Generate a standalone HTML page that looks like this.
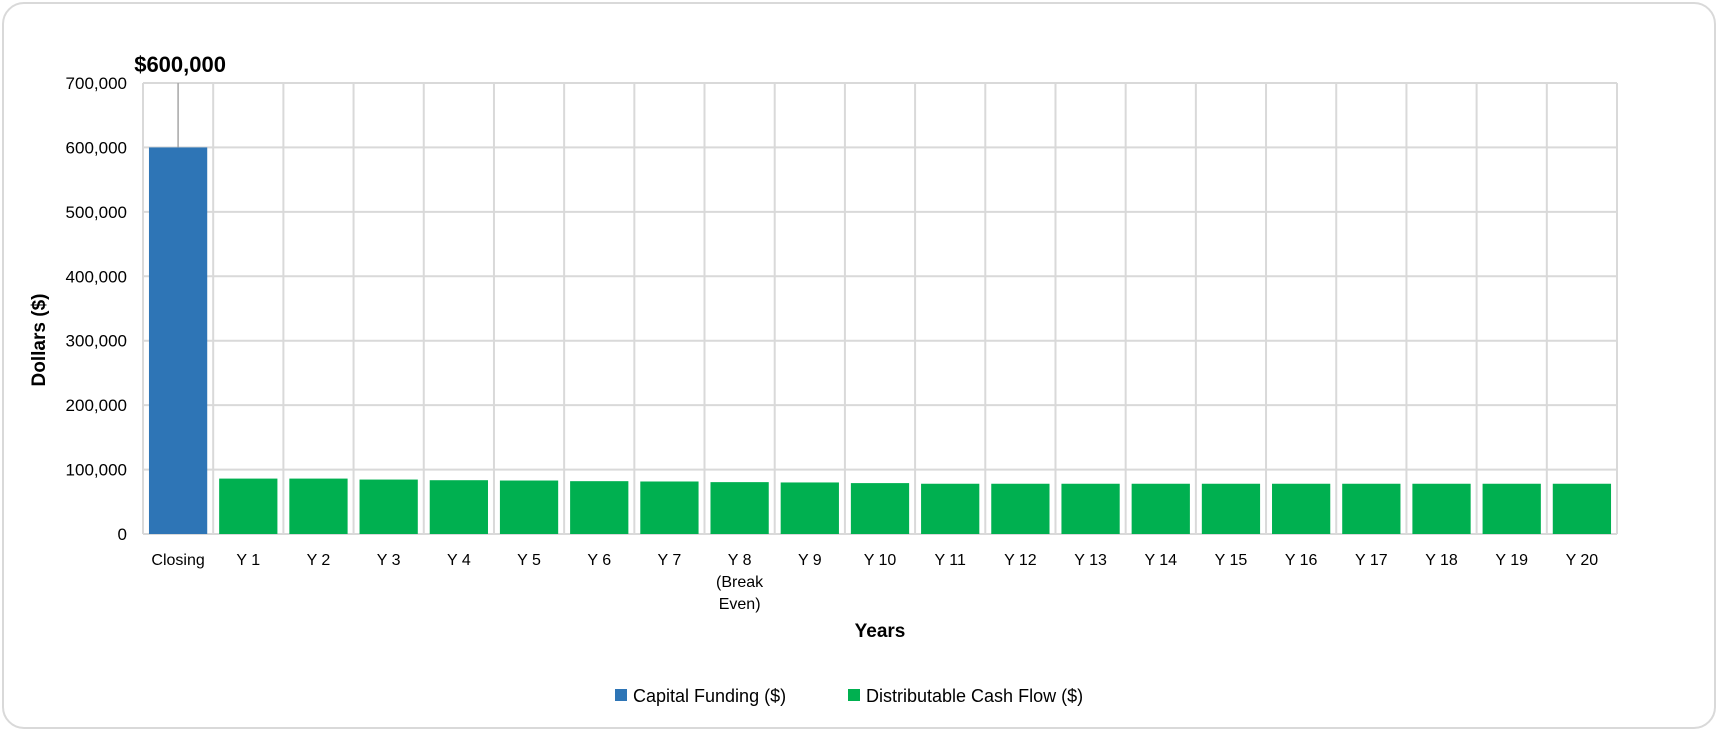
<!DOCTYPE html>
<html><head><meta charset="utf-8"><style>
html,body{margin:0;padding:0;background:#fff;}
body{width:1722px;height:735px;overflow:hidden;font-family:"Liberation Sans",sans-serif;}
#card{position:absolute;left:2px;top:2px;width:1714px;height:727px;border:2px solid #d9d9d9;border-radius:22px;box-sizing:border-box;}
</style></head><body>
<div id="card"></div>
<svg id="chart" width="1722" height="735" style="position:absolute;left:0;top:0"></svg>
<script>
const categories=["Closing","Y 1","Y 2","Y 3","Y 4","Y 5","Y 6","Y 7","Y 8|(Break|Even)","Y 9","Y 10","Y 11","Y 12","Y 13","Y 14","Y 15","Y 16","Y 17","Y 18","Y 19","Y 20"];
const capitalFunding=[600000,0,0,0,0,0,0,0,0,0,0,0,0,0,0,0,0,0,0,0,0];
const cashFlow=[0,86000,86000,84500,83500,83000,82000,81500,80500,80000,79000,78000,78000,78000,78000,78000,78000,78000,78000,78000,78000];
const yTicks=[0,100000,200000,300000,400000,500000,600000,700000];
const dataLabel="$600,000";

const NS="http://www.w3.org/2000/svg";
const svg=document.getElementById('chart');
const L=143,R=1617,T=83,B=534,YMAX=700000;
const bw=(R-L)/categories.length;
const y=v=>B-(v/YMAX)*(B-T);
const x=i=>L+i*bw;
function mk(tag,attrs,parent){const e=document.createElementNS(NS,tag);for(const k in attrs)e.setAttribute(k,attrs[k]);(parent||svg).appendChild(e);return e;}
const font='"Liberation Sans",sans-serif';
// gridlines
yTicks.forEach(t=>{
  const g=mk('line',{x1:L,x2:R,y1:y(t),y2:y(t),stroke:'#d9d9d9','stroke-width':2});
  
  
  const tx=mk('text',{x:L-16,y:y(t)+6,'text-anchor':'end','font-size':17,'font-family':font,fill:'#000'});
  tx.textContent=t.toLocaleString('en-US');
  
  
});
for(let i=0;i<=categories.length;i++){
  const g=mk('line',{x1:x(i),x2:x(i),y1:T,y2:B,stroke:'#d9d9d9','stroke-width':2});
  
  
}
const gap=bw*0.085;
categories.forEach((c,i)=>{
  if(capitalFunding[i]>0){
    const r=mk('rect',{x:x(i)+gap,y:y(capitalFunding[i]),width:bw-2*gap,height:B-y(capitalFunding[i]),fill:'#2e75b6'});
    
    
    const ln=mk('line',{x1:x(i)+bw/2,x2:x(i)+bw/2,y1:T,y2:y(capitalFunding[i]),stroke:'#a6a6a6','stroke-width':1.5});
    
    
    const dl=mk('text',{x:x(i)+bw/2+2,y:T-11,'text-anchor':'middle','font-size':22,'font-weight':'bold','font-family':font});
    dl.textContent=dataLabel;
    
    
  }
  if(cashFlow[i]>0){
    const r=mk('rect',{x:x(i)+gap,y:y(cashFlow[i]),width:bw-2*gap,height:B-y(cashFlow[i]),fill:'#00b050'});
    
    
  }
  c.split('|').forEach((line,j)=>{
    const t=mk('text',{x:x(i)+bw/2,y:565+j*22,'text-anchor':'middle','font-size':16,'font-family':font});
    t.textContent=line;
    
    
  });
});
const yt=mk('text',{x:0,y:0,transform:'translate(45,340) rotate(-90)','text-anchor':'middle','font-size':19,'font-weight':'bold','font-family':font});
yt.textContent='Dollars ($)';


const xt=mk('text',{x:(L+R)/2,y:637,'text-anchor':'middle','font-size':19,'font-weight':'bold','font-family':font});
xt.textContent='Years';


const legend=[["Capital Funding ($)","#2e75b6",615],["Distributable Cash Flow ($)","#00b050",848]];
legend.forEach(([lab,col,lx])=>{
  const s=mk('rect',{x:lx,y:689,width:12,height:12,fill:col});
  
  
  const t=mk('text',{x:lx+18,y:702,'font-size':18,'font-family':font});
  t.textContent=lab;
  
  
});
</script>
</body></html>
